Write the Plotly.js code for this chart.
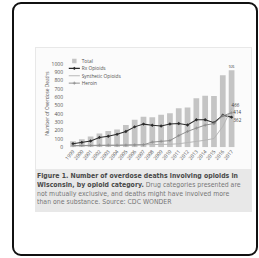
<!DOCTYPE html>
<html>
<head>
<meta charset="utf-8">
<script src="https://cdn.plot.ly/plotly-3.0.1.min.js"></script>
<style>
  html, body { margin: 0; padding: 0; background: #ffffff; width: 259px; height: 258px; overflow: hidden; }
  #card { position: absolute; left: 12px; top: 2px; width: 246px; height: 254px; box-sizing: border-box;
          border: 2px solid #111; border-radius: 9px; background: #fff; }
  #panel { position: absolute; left: 35px; top: 47px; width: 217px; height: 165px; background: #e8e8e8; }
  #chartwrap { position: absolute; left: 36px; top: 48px; width: 215px; height: 121px; overflow: hidden; background: #fbfbfb; }
  #chart { transform-origin: 0 0; }
  #capwrap { position: absolute; left: 37px; top: 172px; width: 214px; height: 40px; overflow: visible; }
  #caption { transform-origin: 0 0; font-family: "DejaVu Sans", Verdana, sans-serif; white-space: nowrap; color: #777777; }
  #caption b { color: #4a4a4a; }
</style>
</head>
<body>
<div id="card"></div>
<div id="panel"></div>
<div id="chartwrap"><div id="chart"></div></div>
<div id="capwrap"><div id="caption"><b>Figure 1. Number of overdose deaths involving opioids in<br>Wisconsin, by opioid category.</b> Drug categories presented are<br>not mutually exclusive, and deaths might have involved more<br>than one substance. Source: CDC WONDER</div></div>
<script>
// ---- data ----
const years = ['1999','2000','2001','2002','2003','2004','2005','2006','2007','2008','2009','2010','2011','2012','2013','2014','2015','2016','2017'];
const total = [72, 95, 130, 165, 195, 212, 268, 330, 365, 362, 392, 410, 468, 478, 590, 620, 615, 865, 926];
const rxOpioids = [42, 58, 75, 118, 132, 155, 190, 245, 278, 265, 255, 280, 285, 268, 330, 330, 295, 385, 362];
const syntheticOpioids = [15, 16, 18, 20, 22, 24, 26, 27, 28, 30, 32, 36, 42, 55, 70, 85, 105, 250, 466];
const heroin = [20, 22, 22, 25, 25, 24, 25, 28, 30, 62, 72, 80, 140, 190, 230, 266, 285, 378, 414];
const seriesNames = ['Total', 'Rx Opioids', 'Synthetic Opioids', 'Heroin'];
const yTicks = [0, 100, 200, 300, 400, 500, 600, 700, 800, 900, 1000];

// ---- scaling (render large, scale down) ----
const k = 2.7;
const W = 215 * k, H = 121 * k;
const chart = document.getElementById('chart');
chart.style.width = W + 'px';
chart.style.height = H + 'px';
chart.style.transform = 'scale(' + (1 / k) + ')';
const cap = document.getElementById('caption');
cap.style.fontSize = (6.2 * k) + 'px';
cap.style.lineHeight = (8.7 * k) + 'px';
cap.style.transform = 'scale(' + (1 / k) + ')';

const last = years.length - 1;
const lastLabel = arr => arr.map((v, i) => i === last ? String(v) : '');

const fontFam = '"Open Sans", "Noto Sans", sans-serif';
const traces = [
  { type: 'bar', name: seriesNames[0], x: years, y: total,
    marker: { color: '#c4c4c4' },
    text: lastLabel(total), textposition: 'outside', cliponaxis: false,
    textfont: { size: 13, color: '#3a3a3a', family: fontFam } },
  { type: 'scatter', mode: 'lines+markers+text', name: seriesNames[1], x: years, y: rxOpioids,
    line: { color: '#2b2b2b', width: 2.8 }, marker: { color: '#2b2b2b', size: 7, symbol: 'diamond' },
    text: lastLabel(rxOpioids), textposition: 'bottom right', cliponaxis: false,
    textfont: { size: 12, color: '#3a3a3a', family: fontFam } },
  { type: 'scatter', mode: 'lines+text', name: seriesNames[2], x: years, y: syntheticOpioids,
    line: { color: '#b5b5b5', width: 2.6 },
    text: lastLabel(syntheticOpioids), textposition: 'top right', cliponaxis: false,
    textfont: { size: 12, color: '#3a3a3a', family: fontFam } },
  { type: 'scatter', mode: 'lines+markers+text', name: seriesNames[3], x: years, y: heroin,
    line: { color: '#8c8c8c', width: 2.6 }, marker: { color: '#8c8c8c', size: 6, symbol: 'cross-thin', line: { color: '#8c8c8c', width: 2 } },
    text: lastLabel(heroin), textposition: 'middle right', cliponaxis: false,
    textfont: { size: 12, color: '#3a3a3a', family: fontFam } }
];

const plotLeft = (68.6 - 36) * k, plotRight = (235.8 - 36) * k;
const plotBottom = (147 - 48) * k;
const plotTop = (147 - 1050 * 0.083 - 48) * k;

const layout = {
  width: W, height: H,
  paper_bgcolor: '#fbfbfb', plot_bgcolor: '#fbfbfb',
  margin: { l: plotLeft, r: W - plotRight, t: plotTop, b: H - plotBottom, pad: 0 },
  font: { family: fontFam, color: '#505050', size: 13 },
  bargap: 0.35,
  showlegend: true,
  legend: { x: -0.01, y: 1.05, xanchor: 'left', yanchor: 'top', bgcolor: 'rgba(0,0,0,0)',
            font: { size: 13, color: '#505050', family: fontFam }, tracegroupgap: 0, traceorder: 'normal' },
  xaxis: { type: 'category', range: [-0.5, 18.5], tickangle: -50, showgrid: false, zeroline: false,
           showline: false, ticks: '', tickfont: { size: 13.5, color: '#505050' }, fixedrange: true },
  yaxis: { range: [0, 1050], tickvals: yTicks, ticktext: yTicks.map(String), showgrid: false, zeroline: false,
           showline: false, ticks: '', ticklabelstandoff: 14, tickfont: { size: 13.5, color: '#505050' },
           title: { text: 'Number of Overdose Deaths', font: { size: 13, color: '#505050' }, standoff: 4 },
           fixedrange: true }
};

Plotly.newPlot(chart, traces, layout, { staticPlot: true, displayModeBar: false });
</script>
</body>
</html>
